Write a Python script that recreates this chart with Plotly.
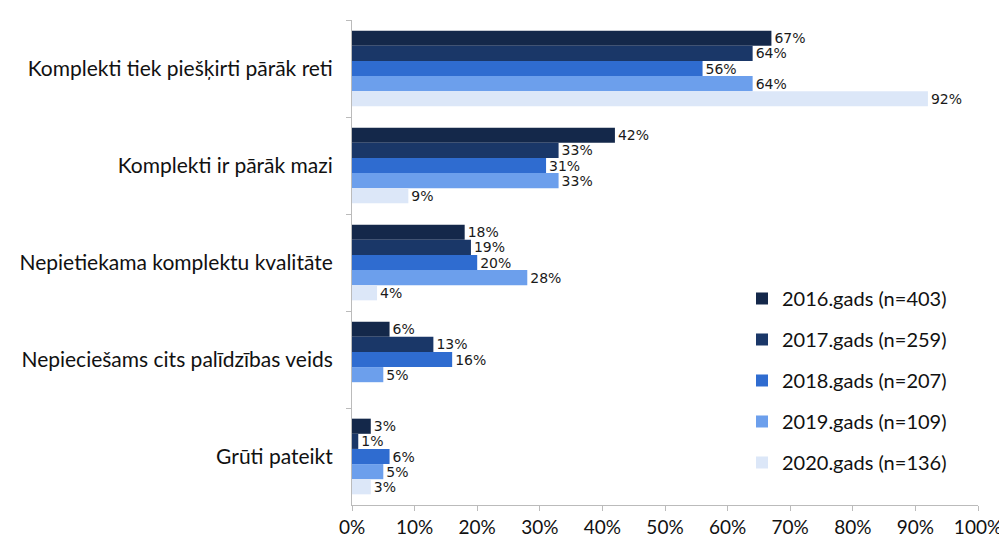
import plotly.graph_objects as go

categories = [
    "Komplekti tiek piešķirti pārāk reti",
    "Komplekti ir pārāk mazi",
    "Nepietiekama komplektu kvalitāte",
    "Nepieciešams cits palīdzības veids",
    "Grūti pateikt",
]
series_names = [
    "2016.gads (n=403)",
    "2017.gads (n=259)",
    "2018.gads (n=207)",
    "2019.gads (n=109)",
    "2020.gads (n=136)",
]
v2016 = [67, 42, 18, 6, 3]
v2017 = [64, 33, 19, 13, 1]
v2018 = [56, 31, 20, 16, 6]
v2019 = [64, 33, 28, 5, 5]
v2020 = [92, 9, 4, None, 3]
values = [v2016, v2017, v2018, v2019, v2020]
colors = ["#14284a", "#1a3768", "#2f6cd0", "#6c9fec", "#dce7f8"]
x_ticks = [0, 10, 20, 30, 40, 50, 60, 70, 80, 90, 100]

fig = go.Figure()
for i, (name, vals, col) in enumerate(zip(series_names, values, colors)):
    fig.add_trace(go.Bar(
        y=categories, x=vals, name=name, orientation="h",
        marker=dict(color=col, line=dict(width=0)),
        text=[f"{v}%" if v is not None else "" for v in vals],
        textposition="outside", cliponaxis=False, constraintext="none",
        textfont=dict(family="DejaVu Sans", size=14, color="#1a1a1a"),
        legendgroup=f"g{i}",
    ))

fig.update_layout(
    width=1007, height=549,
    margin=dict(l=342, r=37, t=12, b=52),
    barmode="group", bargap=0.22, bargroupgap=0,
    plot_bgcolor="white", paper_bgcolor="white",
    font=dict(family="Lato", color="#111"),
    legend=dict(
        x=0.623, y=0.466, xanchor="left", yanchor="top",
        font=dict(family="Lato", size=20, color="#111"),
        traceorder="grouped", tracegroupgap=12,
        bgcolor="rgba(0,0,0,0)",
    ),
)
fig.update_xaxes(
    range=[0, 100], tickvals=x_ticks, ticktext=[f"{t}%" for t in x_ticks],
    showgrid=False, zeroline=False, showline=True, linecolor="#bbbbbb",
    ticks="outside", ticklen=5, tickcolor="#bbbbbb",
    tickfont=dict(family="Lato", size=19, color="#111"),
)
fig.update_yaxes(
    autorange="reversed", categoryorder="array", categoryarray=categories,
    showgrid=False, zeroline=False, showline=True, linecolor="#bbbbbb",
    ticks="outside", ticklen=5, tickcolor="#bbbbbb", tickson="boundaries",
    tickfont=dict(family="Lato", size=21, color="#111"), ticklabelstandoff=14,
)
fig.write_html("out.html")
